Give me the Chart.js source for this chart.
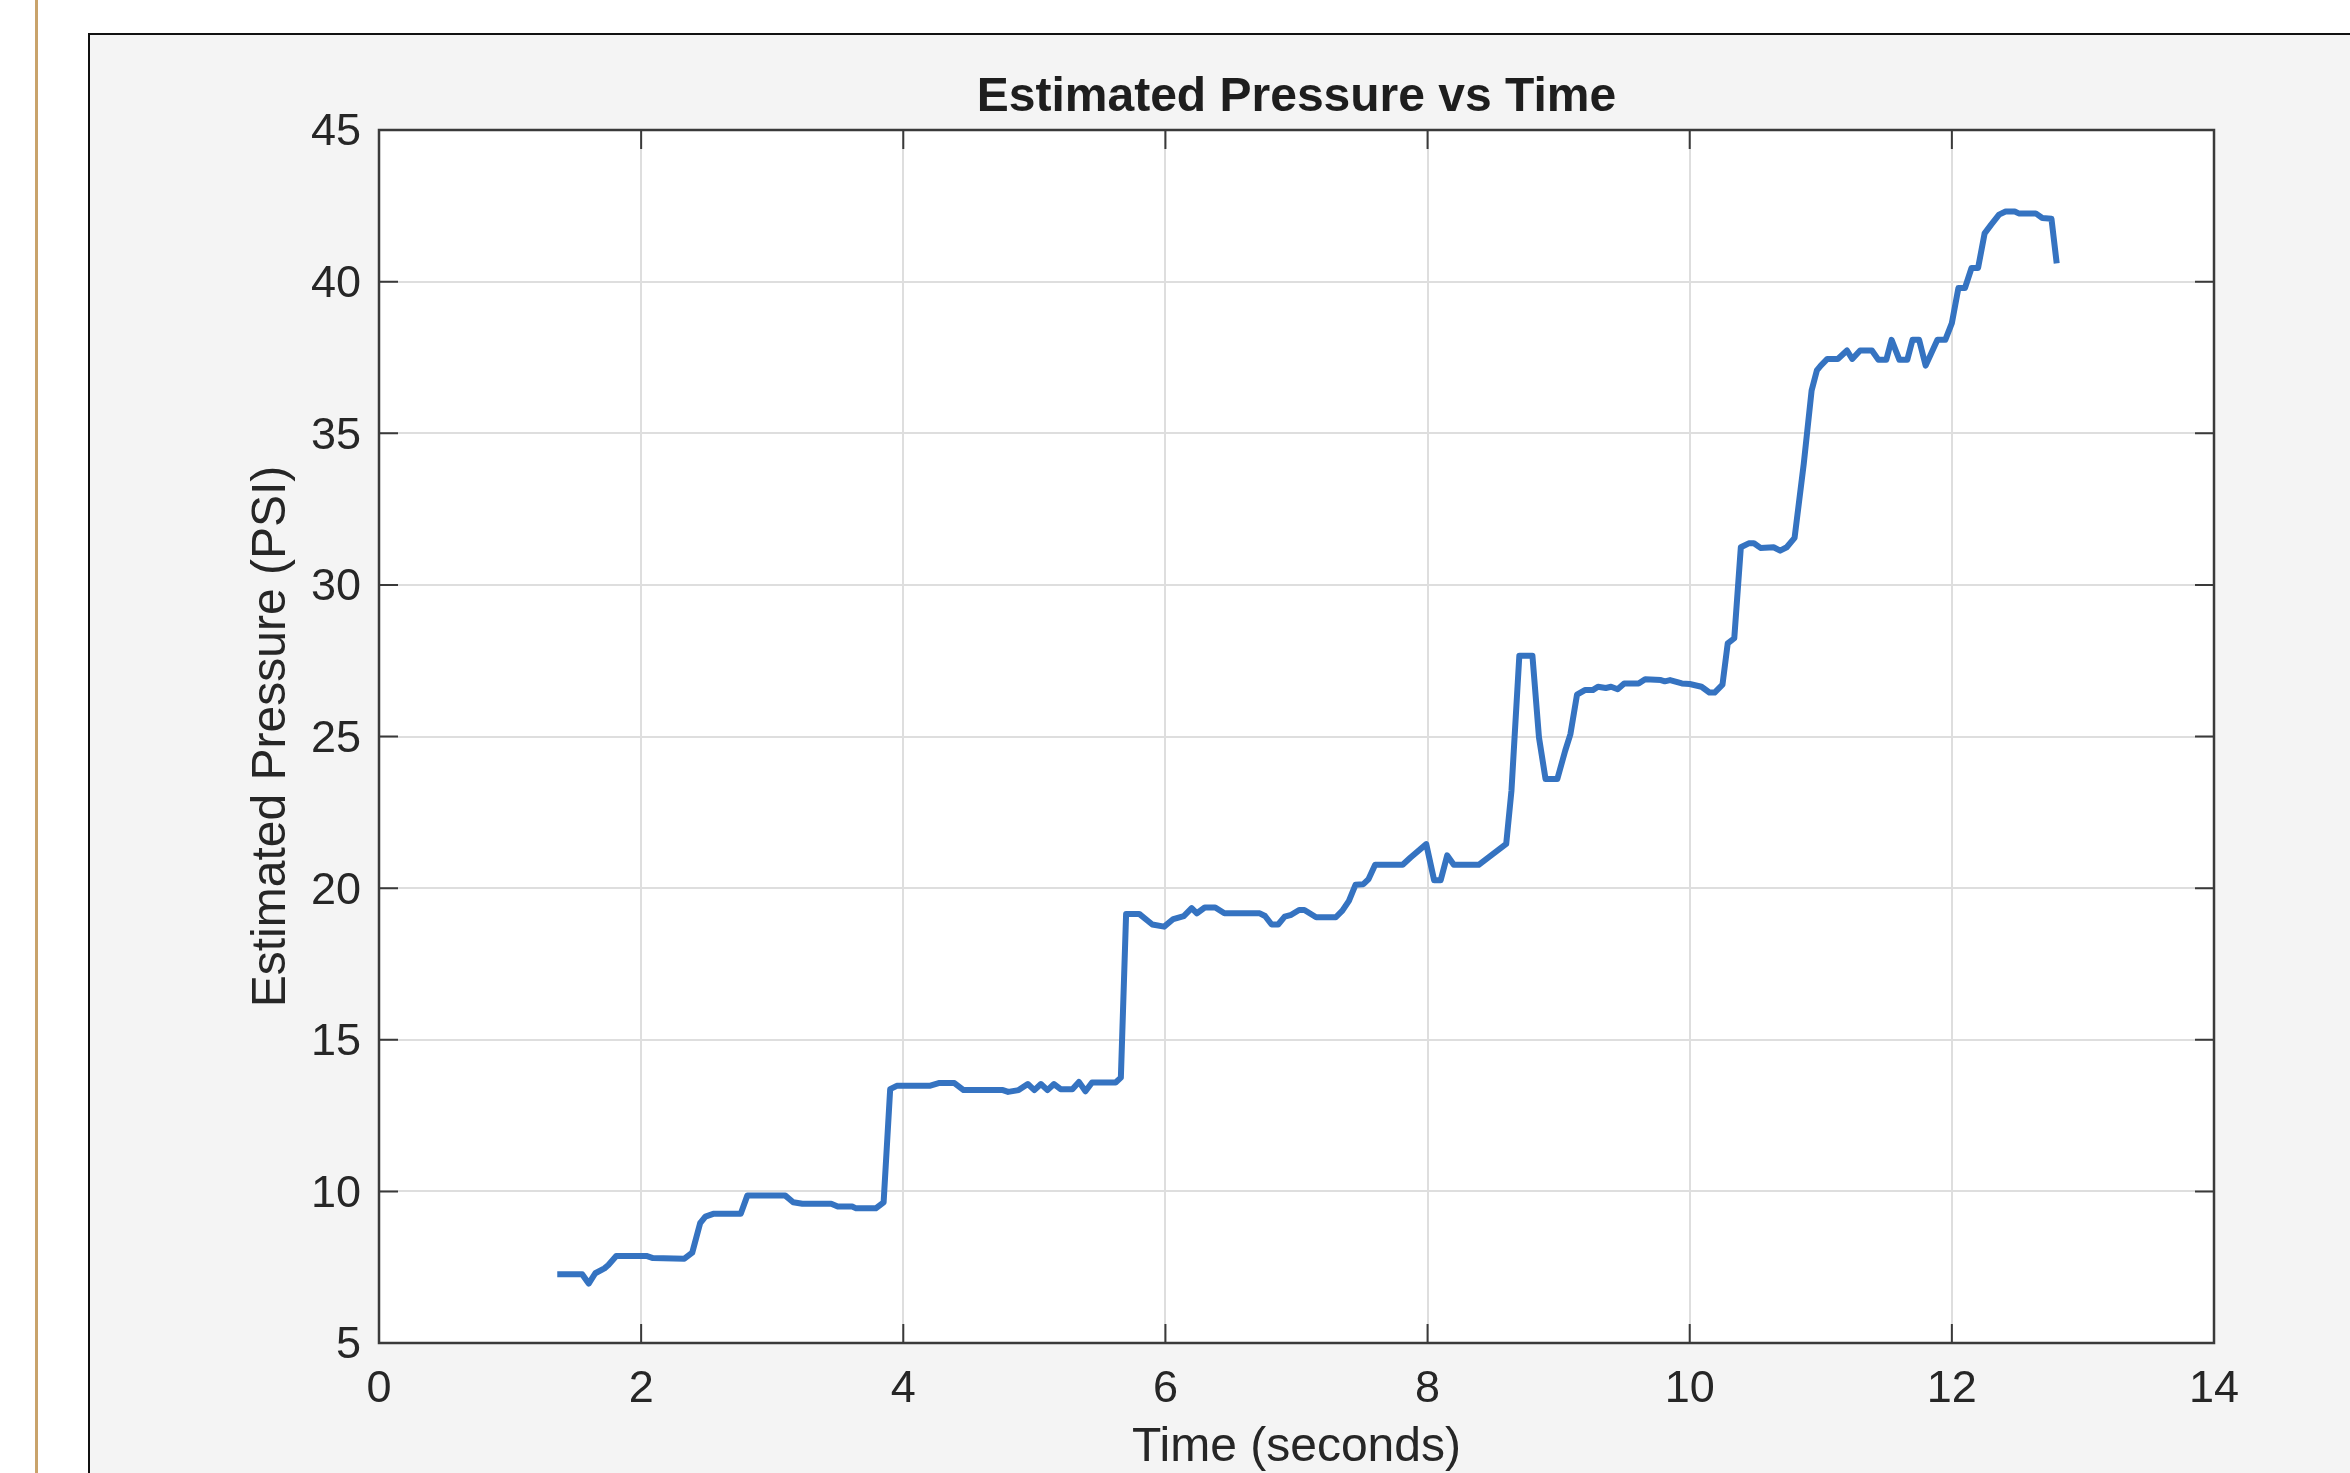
<!DOCTYPE html>
<html>
<head>
<meta charset="utf-8">
<title>Estimated Pressure vs Time</title>
<script src="https://cdn.jsdelivr.net/npm/chart.js@4.4.1/dist/chart.umd.min.js"></script>
<style>
  html, body { margin: 0; padding: 0; background: #ffffff; width: 2350px; height: 1473px; overflow: hidden; }
  #edge { position: absolute; left: 35px; top: 0; width: 3px; height: 1473px; background: #c9a36b; }
  #panel { position: absolute; left: 88px; top: 33px; width: 2300px; height: 1500px; background: #f4f4f4;
           border-left: 2px solid #111; border-top: 2px solid #111; }
  #plot { position: absolute; left: 0; top: 0; }
</style>
</head>
<body>
<div id="edge"></div>
<div id="panel"></div>
<canvas id="plot" width="2350" height="1473"></canvas>
<script>
// Time samples (s) and estimated pressure (PSI)
const timeSec = [
  1.36, 1.55, 1.60, 1.65, 1.72, 1.75, 1.81, 2.04, 2.09, 2.33,
  2.39, 2.45, 2.49, 2.55, 2.76, 2.81, 3.10, 3.16, 3.23, 3.45,
  3.50, 3.61, 3.64, 3.79, 3.85, 3.90, 3.95, 4.20, 4.27, 4.39,
  4.46, 4.76, 4.80, 4.88, 4.95, 5.00, 5.05, 5.10, 5.15, 5.20,
  5.29, 5.34, 5.39, 5.44, 5.62, 5.66, 5.70, 5.80, 5.90, 5.99,
  6.06, 6.14, 6.20, 6.24, 6.30, 6.38, 6.45, 6.72, 6.76, 6.81,
  6.86, 6.91, 6.96, 7.02, 7.06, 7.15, 7.30, 7.35, 7.40, 7.45,
  7.51, 7.55, 7.60, 7.81, 7.87, 7.99, 8.05, 8.10, 8.15, 8.20,
  8.39, 8.60, 8.64, 8.70, 8.80, 8.85, 8.90, 8.99, 9.05, 9.09,
  9.14, 9.20, 9.26, 9.30, 9.36, 9.40, 9.45, 9.50, 9.61, 9.66,
  9.78, 9.81, 9.85, 9.94, 10.00, 10.09, 10.15, 10.19, 10.25, 10.29,
  10.34, 10.39, 10.45, 10.49, 10.54, 10.64, 10.69, 10.74, 10.80, 10.87,
  10.93, 10.97, 11.00, 11.05, 11.13, 11.20, 11.24, 11.30, 11.39, 11.44,
  11.50, 11.54, 11.60, 11.66, 11.70, 11.75, 11.80, 11.89, 11.95, 12.00,
  12.05, 12.10, 12.15, 12.20, 12.25, 12.30, 12.36, 12.41, 12.48, 12.51,
  12.64, 12.69, 12.76, 12.80
];
const pressurePsi = [
  7.27, 7.27, 6.96, 7.30, 7.46, 7.57, 7.87, 7.87, 7.80, 7.78,
  7.98, 8.95, 9.17, 9.26, 9.26, 9.86, 9.86, 9.64, 9.59, 9.59,
  9.50, 9.50, 9.44, 9.44, 9.64, 13.37, 13.48, 13.48, 13.57, 13.57,
  13.34, 13.34, 13.28, 13.34, 13.54, 13.34, 13.54, 13.34, 13.54, 13.37,
  13.37, 13.61, 13.30, 13.59, 13.59, 13.75, 19.15, 19.15, 18.80, 18.73,
  18.98, 19.08, 19.34, 19.17, 19.36, 19.36, 19.17, 19.17, 19.08, 18.80,
  18.80, 19.06, 19.12, 19.28, 19.28, 19.04, 19.04, 19.26, 19.58, 20.11,
  20.13, 20.30, 20.77, 20.77, 21.01, 21.45, 20.26, 20.26, 21.08, 20.77,
  20.77, 21.46, 23.21, 27.66, 27.66, 24.97, 23.60, 23.60, 24.53, 25.08,
  26.38, 26.53, 26.53, 26.64, 26.60, 26.64, 26.56, 26.75, 26.75, 26.89,
  26.86, 26.82, 26.86, 26.75, 26.73, 26.64, 26.45, 26.45, 26.71, 28.07,
  28.24, 31.24, 31.37, 31.37, 31.22, 31.24, 31.13, 31.24, 31.55, 33.99,
  36.41, 37.07, 37.23, 37.45, 37.45, 37.73, 37.45, 37.73, 37.73, 37.42,
  37.42, 38.08, 37.42, 37.42, 38.08, 38.08, 37.23, 38.08, 38.08, 38.63,
  39.79, 39.79, 40.45, 40.45, 41.59, 41.88, 42.21, 42.31, 42.31, 42.25,
  42.25, 42.10, 42.07, 40.60
];
const xTicks = [0, 2, 4, 6, 8, 10, 12, 14];
const yTicks = [5, 10, 15, 20, 25, 30, 35, 40, 45];

const FONT = '"Liberation Sans", Arial, Helvetica, sans-serif';
const TEXT = '#262626';

// white axes background, box outline and inward tick marks like MATLAB
const axesBox = {
    id: 'axesBox',
    beforeDraw(chart) {
        const { ctx, chartArea: a } = chart;
        ctx.save();
        ctx.fillStyle = '#ffffff';
        ctx.fillRect(a.left, a.top, a.width, a.height);
        ctx.restore();
    },
    beforeDatasetsDraw(chart) {
        const { ctx, chartArea: a, scales } = chart;
        const len = 19;
        ctx.save();
        ctx.strokeStyle = '#3a3a3a';
        ctx.lineWidth = 2;
        ctx.beginPath();
        scales.x.ticks.forEach(t => {
            const px = scales.x.getPixelForValue(t.value);
            ctx.moveTo(px, a.bottom); ctx.lineTo(px, a.bottom - len);
            ctx.moveTo(px, a.top); ctx.lineTo(px, a.top + len);
        });
        scales.y.ticks.forEach(t => {
            const py = scales.y.getPixelForValue(t.value);
            ctx.moveTo(a.left, py); ctx.lineTo(a.left + len, py);
            ctx.moveTo(a.right, py); ctx.lineTo(a.right - len, py);
        });
        ctx.stroke();
        ctx.lineWidth = 2.5;
        ctx.strokeRect(a.left, a.top, a.width, a.height);
        ctx.restore();
    }
};

const points = timeSec.map((t, i) => ({ x: t, y: pressurePsi[i] }));

new Chart(document.getElementById('plot'), {
    type: 'line',
    data: {
        datasets: [{
            data: points,
            borderColor: '#3573c1',
            borderWidth: 6,
            borderJoinStyle: 'round',
            pointRadius: 0,
            tension: 0,
            fill: false
        }]
    },
    options: {
        responsive: false,
        animation: false,
        devicePixelRatio: 1,
        layout: { padding: { left: 237, right: 136, top: 0, bottom: 0 } },
        plugins: {
            legend: { display: false },
            tooltip: { enabled: false },
            title: {
                display: true,
                fullSize: false,
                text: 'Estimated Pressure vs Time',
                color: '#1e1e1e',
                font: { family: FONT, size: 48, weight: 'bold' },
                padding: { top: 69, bottom: 3.4 }
            }
        },
        scales: {
            x: {
                type: 'linear',
                min: 0,
                max: 14,
                afterBuildTicks: s => { s.ticks = xTicks.map(v => ({ value: v })); },
                afterFit: s => { s.height = 130; },
                border: { display: false },
                grid: { color: '#dedede', lineWidth: 2, drawTicks: false },
                ticks: { color: TEXT, padding: 20, maxRotation: 0, autoSkip: false,
                         font: { family: FONT, size: 45 } },
                title: { display: true, text: 'Time (seconds)', color: TEXT,
                         font: { family: FONT, size: 48 }, padding: { top: 0, bottom: -4 } }
            },
            y: {
                type: 'linear',
                min: 5,
                max: 45,
                afterBuildTicks: s => { s.ticks = yTicks.map(v => ({ value: v })); },
                afterFit: s => { s.width = 142; },
                border: { display: false },
                grid: { color: '#dedede', lineWidth: 2, drawTicks: false },
                ticks: { color: TEXT, padding: 18, autoSkip: false, labelOffset: 3,
                         font: { family: FONT, size: 45 } },
                title: { display: true, text: 'Estimated Pressure (PSI)', color: TEXT,
                         font: { family: FONT, size: 48 }, padding: { top: 6, bottom: 4 } }
            }
        }
    },
    plugins: [axesBox]
});
</script>
</body>
</html>
